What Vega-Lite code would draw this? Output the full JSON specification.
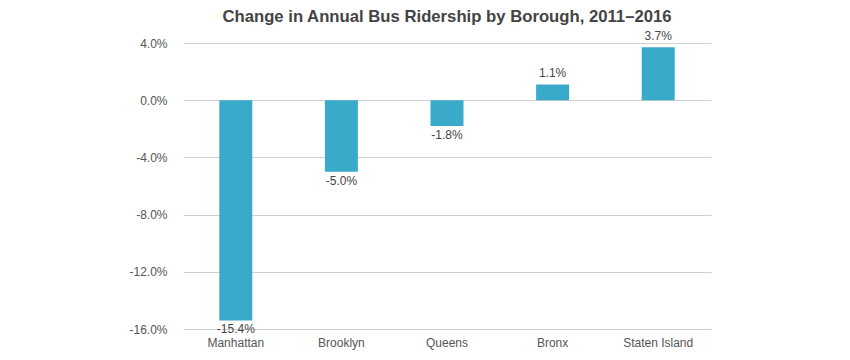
{
  "$schema": "https://vega.github.io/schema/vega-lite/v6.json",
  "width": 528,
  "height": 286,
  "autosize": {"type": "none"},
  "padding": {"left": 183, "top": 43, "right": 139, "bottom": 31},
  "background": "white",
  "title": {
    "text": "Change in Annual Bus Ridership by Borough, 2011–2016",
    "font": "Liberation Sans",
    "fontSize": 16.7,
    "fontWeight": "bold",
    "color": "#444444",
    "anchor": "middle",
    "offset": 5
  },
  "data": {
    "values": [
      {"borough": "Manhattan", "change": -0.154},
      {"borough": "Brooklyn", "change": -0.05},
      {"borough": "Queens", "change": -0.018},
      {"borough": "Bronx", "change": 0.011},
      {"borough": "Staten Island", "change": 0.037}
    ]
  },
  "config": {
    "view": {"stroke": null},
    "font": "Liberation Sans",
    "locale": {
      "number": {
        "decimal": ".",
        "thousands": ",",
        "grouping": [3],
        "currency": ["$", ""],
        "minus": "-"
      }
    }
  },
  "encoding": {
    "x": {
      "field": "borough",
      "type": "nominal",
      "sort": null,
      "title": null,
      "axis": {
        "labelAngle": 0,
        "domain": false,
        "ticks": false,
        "labelPadding": 8,
        "labelFontSize": 12,
        "labelColor": "#555555",
        "labelFont": "Liberation Sans"
      }
    },
    "y": {
      "field": "change",
      "type": "quantitative",
      "title": null,
      "scale": {"domain": [-0.16, 0.04], "nice": false},
      "axis": {
        "values": [-0.16, -0.12, -0.08, -0.04, 0, 0.04],
        "format": ".1%",
        "domain": false,
        "ticks": false,
        "labelPadding": 16,
        "labelFontSize": 12,
        "labelColor": "#555555",
        "gridColor": "#d0d0d0",
        "gridWidth": 1,
        "labelFont": "Liberation Sans"
      }
    }
  },
  "layer": [
    {
      "mark": {"type": "bar", "color": "#3aaacb", "size": 33}
    },
    {
      "transform": [{"filter": "datum.change >= 0"}],
      "mark": {"type": "text", "baseline": "bottom", "dy": -4, "fontSize": 12, "color": "#444444"},
      "encoding": {"text": {"field": "change", "type": "quantitative", "format": ".1%"}}
    },
    {
      "transform": [{"filter": "datum.change < 0"}],
      "mark": {"type": "text", "baseline": "top", "dy": 4, "fontSize": 12, "color": "#444444"},
      "encoding": {"text": {"field": "change", "type": "quantitative", "format": ".1%"}}
    }
  ]
}
